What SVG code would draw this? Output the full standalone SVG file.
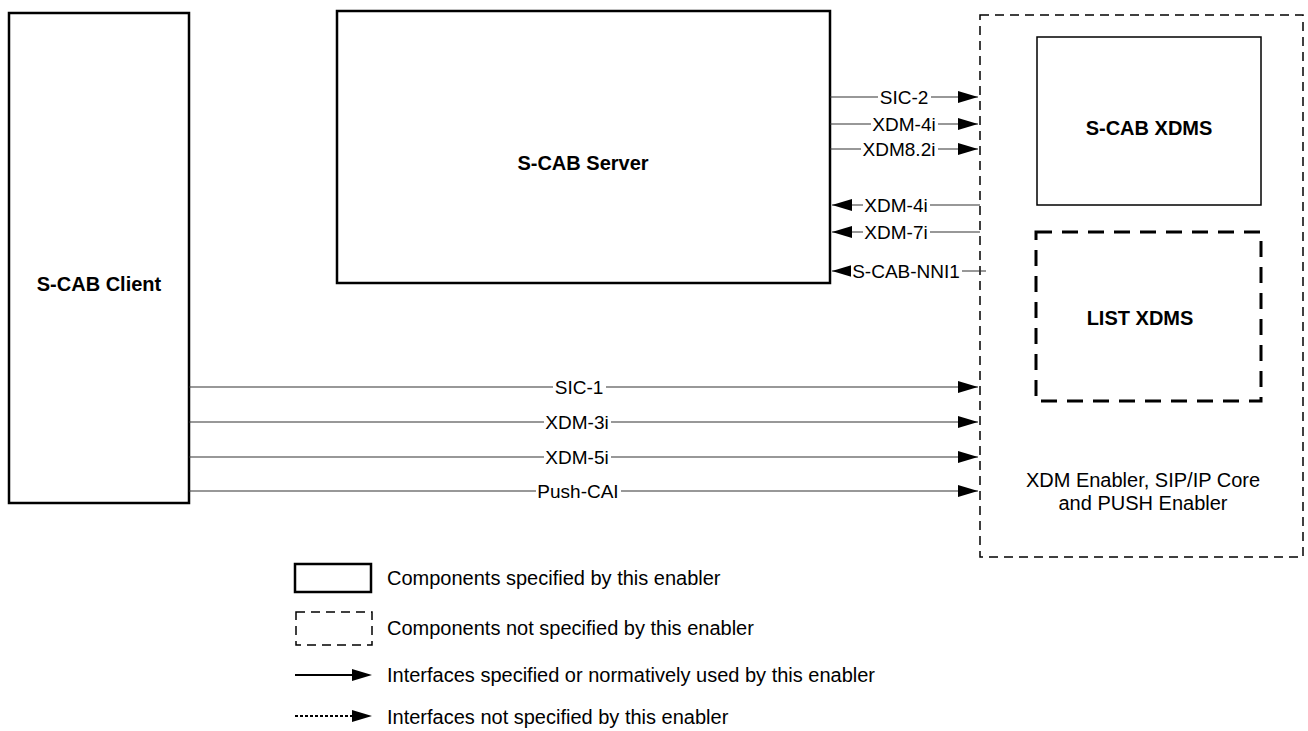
<svg xmlns="http://www.w3.org/2000/svg" width="1308" height="731" viewBox="0 0 1308 731">
<style>
.box{fill:#fff;stroke:#000;stroke-width:2.5}
.thin{fill:#fff;stroke:#000;stroke-width:1.5}
.dash{fill:none;stroke:#000;stroke-width:1.5;stroke-dasharray:9 6}
.dashb{fill:none;stroke:#000;stroke-width:3;stroke-dasharray:16 10}
.ln{stroke:#333;stroke-width:1.2;fill:none}
.t{font-family:"Liberation Sans",Arial,sans-serif;font-size:20px;fill:#000}
.b{font-family:"Liberation Sans",Arial,sans-serif;font-size:20px;font-weight:bold;fill:#000;text-anchor:middle}
.lbl{font-family:"Liberation Sans",Arial,sans-serif;font-size:19px;fill:#000;text-anchor:middle}
.bg{fill:#fff}
</style>
<defs>
<marker id="ah" markerWidth="20" markerHeight="12" refX="20" refY="6" orient="auto" markerUnits="userSpaceOnUse">
<path d="M0,0 L20,6 L0,12 z" fill="#000"/>
</marker>
</defs>
<rect width="1308" height="731" fill="#fff"/>
<g id="client"><rect class="box" x="9" y="13" width="180" height="490"/><text class="b" x="99" y="291">S-CAB Client</text></g>
<g id="server"><rect class="box" x="337" y="11" width="493" height="272"/><text class="b" x="583" y="170">S-CAB Server</text></g>
<g id="enabler"><rect class="dash" x="980" y="15" width="323" height="542"/><text class="t" x="1143" y="487" text-anchor="middle">XDM Enabler, SIP/IP Core</text><text class="t" x="1143" y="510" text-anchor="middle">and PUSH Enabler</text></g>
<g id="scabxdms"><rect class="thin" x="1037" y="37" width="224" height="168"/><text class="b" x="1149" y="135">S-CAB XDMS</text></g>
<g id="listxdms"><rect class="dashb" x="1036" y="232" width="225" height="169"/><text class="b" x="1140" y="325">LIST XDMS</text></g>
<g id="connectors">
<line class="ln" x1="830" y1="97" x2="978" y2="97" marker-end="url(#ah)"/>
<rect class="bg" x="878" y="89" width="53" height="16"/><text class="lbl" x="904" y="104">SIC-2</text>
<line class="ln" x1="830" y1="124" x2="978" y2="124" marker-end="url(#ah)"/>
<rect class="bg" x="871" y="116" width="67" height="16"/><text class="lbl" x="904" y="131">XDM-4i</text>
<line class="ln" x1="830" y1="149" x2="978" y2="149" marker-end="url(#ah)"/>
<rect class="bg" x="861" y="141" width="77" height="16"/><text class="lbl" x="899" y="156">XDM8.2i</text>
<line class="ln" x1="980" y1="205" x2="832" y2="205" marker-end="url(#ah)"/>
<rect class="bg" x="863" y="197" width="67" height="16"/><text class="lbl" x="896" y="212">XDM-4i</text>
<line class="ln" x1="980" y1="232" x2="832" y2="232" marker-end="url(#ah)"/>
<rect class="bg" x="863" y="224" width="67" height="16"/><text class="lbl" x="896" y="239">XDM-7i</text>
<line class="ln" x1="986" y1="271" x2="832" y2="271" marker-end="url(#ah)"/>
<rect class="bg" x="851" y="263" width="111" height="16"/><text class="lbl" x="906" y="278">S-CAB-NNI1</text>
<line class="ln" x1="189" y1="387" x2="978" y2="387" marker-end="url(#ah)"/>
<rect class="bg" x="553" y="379" width="53" height="16"/><text class="lbl" x="579" y="394">SIC-1</text>
<line class="ln" x1="189" y1="422" x2="978" y2="422" marker-end="url(#ah)"/>
<rect class="bg" x="544" y="414" width="67" height="16"/><text class="lbl" x="577" y="429">XDM-3i</text>
<line class="ln" x1="189" y1="457" x2="978" y2="457" marker-end="url(#ah)"/>
<rect class="bg" x="544" y="449" width="67" height="16"/><text class="lbl" x="577" y="464">XDM-5i</text>
<line class="ln" x1="189" y1="491" x2="978" y2="491" marker-end="url(#ah)"/>
<rect class="bg" x="536" y="483" width="85" height="16"/><text class="lbl" x="578" y="498">Push-CAI</text>
</g>
<g id="legend">
<rect class="box" x="295" y="564" width="76" height="28"/>
<text class="t" x="387" y="585">Components specified by this enabler</text>
<rect class="dash" x="296" y="612" width="76" height="33"/>
<text class="t" x="387" y="635">Components not specified by this enabler</text>
<line x1="295" y1="675" x2="352" y2="675" stroke="#000" stroke-width="2"/>
<path d="M352,669 L372,675 L352,681 z" fill="#000"/>
<text class="t" x="387" y="682">Interfaces specified or normatively used by this enabler</text>
<line x1="295" y1="716" x2="352" y2="716" stroke="#000" stroke-width="2" stroke-dasharray="3 2"/>
<path d="M352,710 L372,716 L352,722 z" fill="#000"/>
<text class="t" x="387" y="724">Interfaces not specified by this enabler</text>
</g>
</svg>
